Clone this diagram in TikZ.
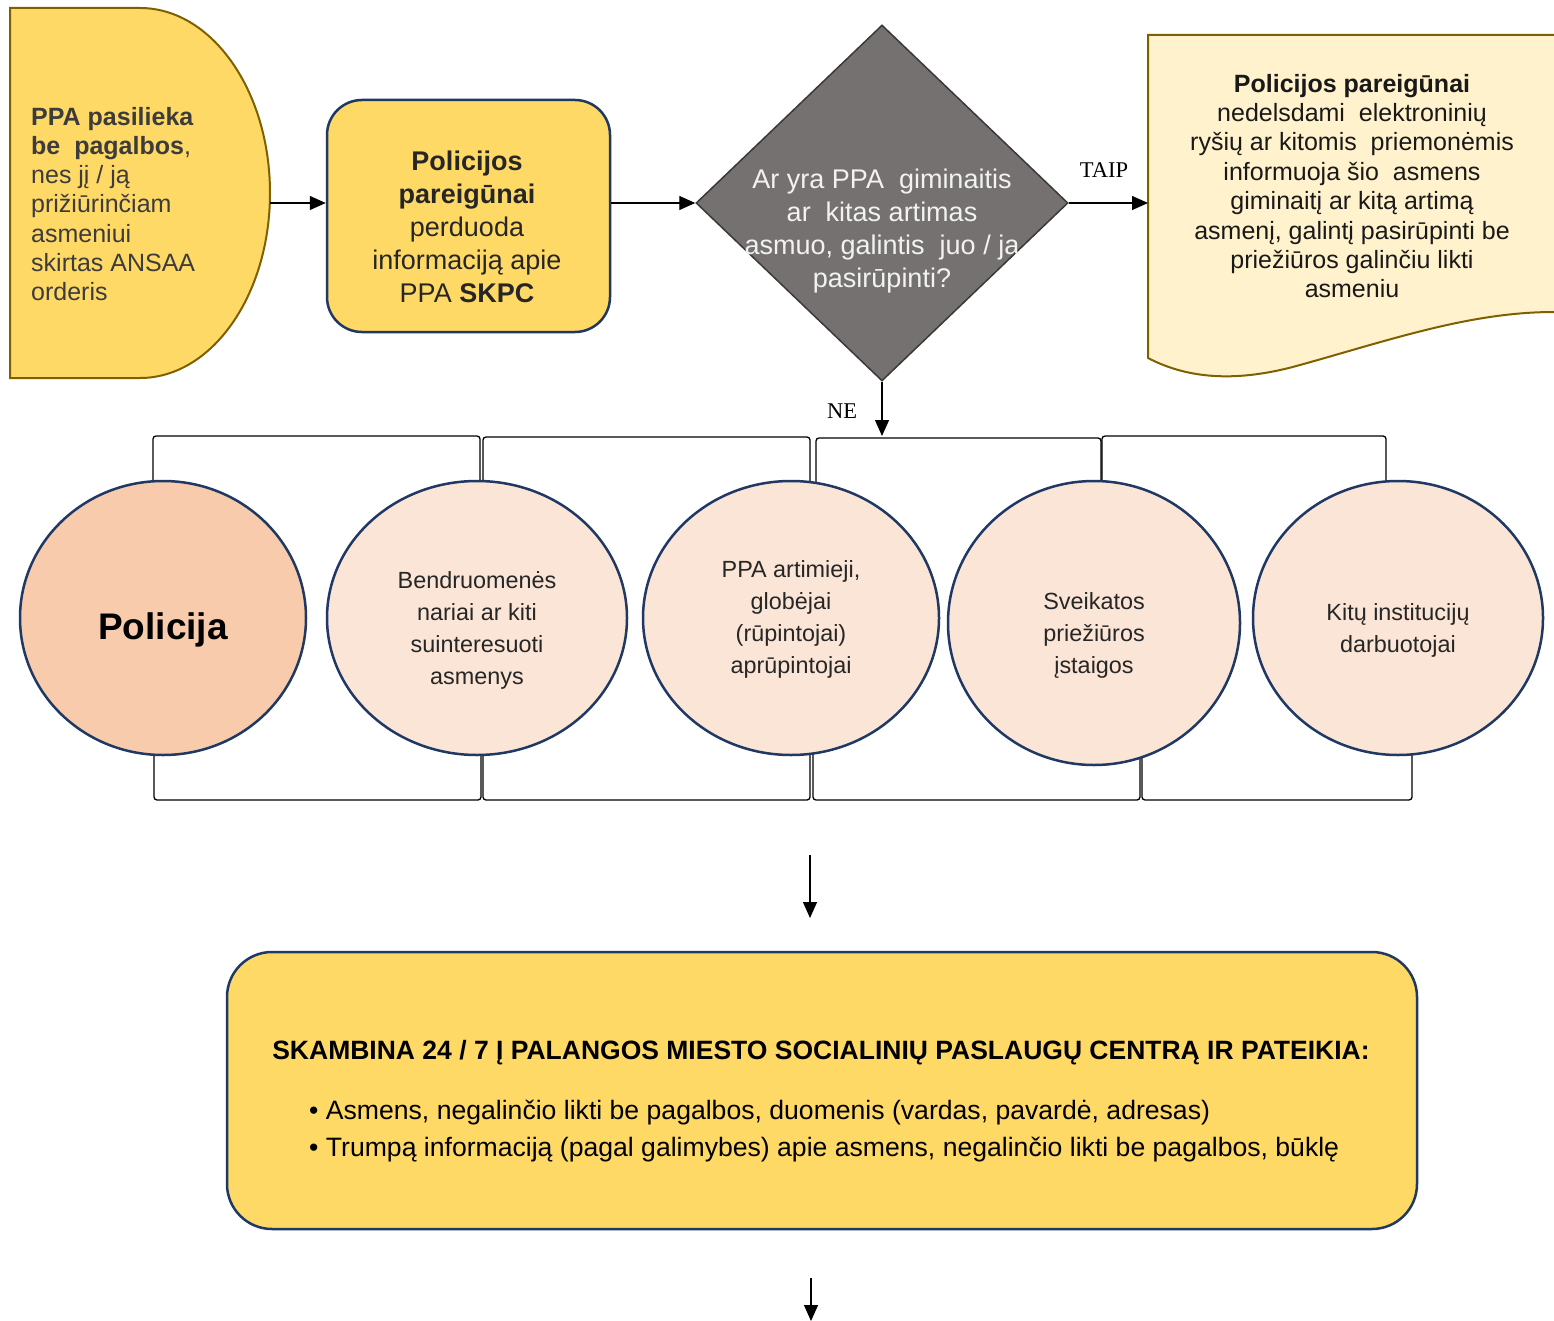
\documentclass[tikz,border=0pt]{standalone}
\usepackage{fontspec}
\setmainfont{Liberation Sans}
\newfontfamily\seriffont{Liberation Serif}
\usetikzlibrary{shapes.geometric,arrows.meta}
\definecolor{gold}{HTML}{FFD966}
\definecolor{brownline}{HTML}{7F6000}
\definecolor{navy}{HTML}{1F3864}
\definecolor{diafill}{HTML}{767171}
\definecolor{diastroke}{HTML}{3B3838}
\definecolor{docfill}{HTML}{FFF2CC}
\definecolor{peach}{HTML}{F8CBAD}
\definecolor{lightpeach}{HTML}{FBE5D6}
\definecolor{txt}{HTML}{262626}
\definecolor{diatxt}{HTML}{F2F2F2}
\begin{document}
\begin{tikzpicture}[x=1pt,y=-1pt,
  arr/.style={-{Triangle[length=16pt,width=14pt]}, line width=1.3pt, black},
  br/.style={line width=1.3pt, black, rounded corners=3pt},
  circ/.style={ellipse, draw=navy, line width=2.5pt, inner sep=0pt},
  lbl/.style={inner sep=0pt, align=center, text=txt},
  ctext/.style={lbl, font=\fontsize{23.4}{32}\selectfont}
]
\useasboundingbox (0,0) rectangle (1554,1321);
\fill[white] (0,0) rectangle (1554,1321);

% delay shape
\draw[fill=gold, draw=brownline, line width=2pt]
  (10,8) -- (140,8)
  .. controls (211.8,8) and (270,90.9) .. (270,193)
  .. controls (270,295.1) and (211.8,378) .. (140,378)
  -- (10,378) -- cycle;
\coordinate (d1) at (270,203);
\node[lbl, anchor=west, align=left, font=\fontsize{25}{29.3}\selectfont, text=txt!90!white] (t1) at (31,204)
  {\textbf{PPA pasilieka}\\ \textbf{be\ \ pagalbos},\\ nes jį / ją\\ prižiūrinčiam\\ asmeniui\\ skirtas ANSAA\\ orderis};

% box 1
\node[draw=navy, fill=gold, line width=2.5pt, rounded corners=35pt, minimum width=283pt, minimum height=232pt, inner sep=0pt] (b1) at (468.5,216) {};
\node[lbl, font=\fontsize{27}{33}\selectfont] (t2) at (467,227)
  {\textbf{Policijos}\\ \textbf{pareigūnai}\\ perduoda\\ informaciją apie\\ PPA \textbf{SKPC}};

% diamond
\node[diamond, draw=diastroke, fill=diafill, line width=1.5pt, minimum width=372pt, minimum height=356pt, inner sep=0pt] (dia) at (882,203) {};
\node[lbl, text=diatxt, font=\fontsize{27}{32.7}\selectfont] (t3) at (882,231)
  {Ar yra PPA\ \ giminaitis\\ ar\ \ kitas artimas\\ asmuo, galintis\ \ juo / ja\\ pasirūpinti?};

% document shape
\draw[fill=docfill, draw=brownline, line width=2pt]
  (1148,35) -- (1560,35) -- (1560,312) -- (1554,312)
  .. controls (1470,312) and (1390,340) .. (1300,365)
  .. controls (1240,382) and (1190,380) .. (1148,358) -- cycle;
\coordinate (docw) at (1148,203);
\node[lbl, text=black!90, font=\fontsize{25}{29.4}\selectfont] (t4) at (1352,186)
  {\textbf{Policijos pareigūnai}\\ nedelsdami\ \ elektroninių\\ ryšių ar kitomis\ \ priemonėmis\\ informuoja šio\ \ asmens\\ giminaitį ar kitą artimą\\ asmenį, galintį pasirūpinti be\\ priežiūros galinčiu likti\\ asmeniu};

% arrows top
\draw[arr] (d1) -- (d1 -| b1.west);
\draw[arr] (d1 -| b1.east) -- (dia.west);
\draw[arr] (dia.east) -- (docw);
\node[inner sep=0pt, font=\seriffont\fontsize{22.5}{26}\selectfont] (taip) at (1104,170) {TAIP};
\coordinate (ne) at (882,436);
\draw[arr] (dia.south) -- (ne);
\node[inner sep=0pt, font=\seriffont\fontsize{22.5}{26}\selectfont] (nelbl) at (842,411) {NE};

% brackets
\draw[br] (153,484) -- (153,436) -- (480,436) -- (480,484);
\draw[br] (483,484) -- (483,437) -- (810,437) -- (810,484);
\draw[br] (816,486) -- (816,438) -- (1101,438) -- (1101,484);
\draw[br] (1102,484) -- (1102,436) -- (1386,436) -- (1386,484);
\draw[br] (154,752) -- (154,800) -- (481,800) -- (481,752);
\draw[br] (483,752) -- (483,800) -- (810,800) -- (810,752);
\draw[br] (813,752) -- (813,800) -- (1140,800) -- (1140,755);
\draw[br] (1142,755) -- (1142,800) -- (1412,800) -- (1412,752);

% circles
\node[circ, fill=peach, minimum width=286pt, minimum height=274pt] (c1) at (163,618) {};
\node[lbl, text=black, font=\fontsize{37}{44}\selectfont\bfseries] (l1) at (163,630) {Policija};
\node[circ, fill=lightpeach, minimum width=300pt, minimum height=274pt] (c2) at (477,618) {};
\node[ctext] (l2) at (477,630) {Bendruomenės\\ nariai ar kiti\\ suinteresuoti\\ asmenys};
\node[circ, fill=lightpeach, minimum width=296pt, minimum height=274pt] (c3) at (791,618) {};
\node[ctext] (l3) at (791,619) {PPA artimieji,\\ globėjai\\ (rūpintojai)\\ aprūpintojai};
\node[circ, fill=lightpeach, minimum width=292pt, minimum height=284pt] (c4) at (1094,623) {};
\node[ctext] (l4) at (1094,635) {Sveikatos\\ priežiūros\\ įstaigos};
\node[circ, fill=lightpeach, minimum width=290pt, minimum height=274pt] (c5) at (1398,618) {};
\node[ctext] (l5) at (1398,630) {Kitų institucijų\\ darbuotojai};

% arrow to big box
\coordinate (a1s) at (810,855);
\coordinate (a1e) at (810,918);
\draw[arr] (a1s) -- (a1e);

% big box
\node[draw=navy, fill=gold, line width=2.5pt, rounded corners=45pt, minimum width=1190pt, minimum height=277pt, inner sep=0pt] (big) at (822,1090.5) {};
\node[lbl, text=black, font=\fontsize{26.5}{30}\selectfont\bfseries] (bt) at (821,1053)
  {SKAMBINA 24 / 7 Į PALANGOS MIESTO SOCIALINIŲ PASLAUGŲ CENTRĄ IR PATEIKIA:};
\node[lbl, anchor=west, align=left, text=black, font=\fontsize{26.6}{37}\selectfont] (bl) at (309,1131)
  {• Asmens, negalinčio likti be pagalbos, duomenis (vardas, pavardė, adresas)\\
   • Trumpą informaciją (pagal galimybes) apie asmens, negalinčio likti be pagalbos, būklę};

% final arrow
\coordinate (a2s) at (811,1278);
\coordinate (a2e) at (811,1321);
\draw[arr] (a2s) -- (a2e);
\end{tikzpicture}
\end{document}
